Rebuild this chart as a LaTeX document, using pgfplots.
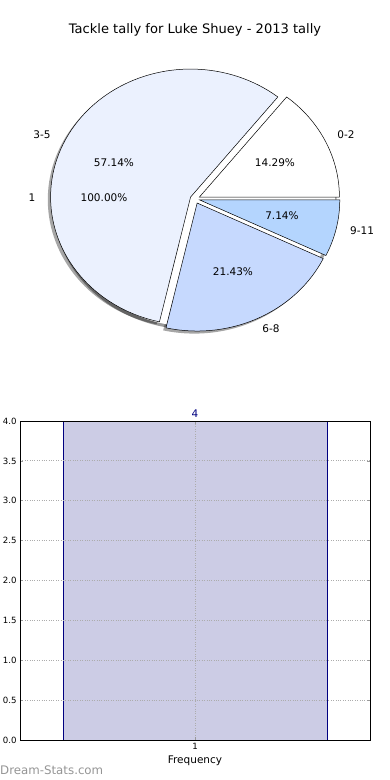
\documentclass[border=0pt]{standalone}
\usepackage{fontspec}
\setmainfont{DejaVu Sans}
\usepackage{pgfplots}
\pgfplotsset{compat=1.18}
\definecolor{cA}{HTML}{FFFFFF}
\definecolor{cB}{HTML}{EBF1FE}
\definecolor{cC}{HTML}{C6D9FE}
\definecolor{cD}{HTML}{B4D5FE}
\definecolor{barfill}{HTML}{CCCCE5}
\definecolor{baredge}{HTML}{000080}
\definecolor{wm}{HTML}{959595}
\newcommand\lbl{\fontsize{10.5bp}{12bp}\selectfont}
\newcommand\tlf{\fontsize{8.6bp}{9bp}\selectfont}
\newcommand\piewedge[5]{%
  \addplot[#5, domain=#1:#2, samples=90] ({#3+cos(x)},{#4+sin(x)}) -- (axis cs:#3,#4) -- cycle;%
}
\begin{document}
\begin{tikzpicture}
\path[use as bounding box] (0,0) rectangle (390bp,780bp);
% pie percentages
\def\pA{14.29}\def\pB{57.14}\def\pC{21.43}\def\pD{7.14}
\pgfmathsetmacro\aA{0}
\pgfmathsetmacro\aB{3.6*\pA}
\pgfmathsetmacro\aC{\aB+3.6*\pB}
\pgfmathsetmacro\aD{\aC+3.6*\pC}
\pgfmathsetmacro\aE{\aD+3.6*\pD}
\def\ex{0.035}\def\sh{0.02}
\pgfmathsetmacro\oxA{\ex*cos((\aA+\aB)/2)}\pgfmathsetmacro\oyA{\ex*sin((\aA+\aB)/2)}
\pgfmathsetmacro\oxB{\ex*cos((\aB+\aC)/2)}\pgfmathsetmacro\oyB{\ex*sin((\aB+\aC)/2)}
\pgfmathsetmacro\oxC{\ex*cos((\aC+\aD)/2)}\pgfmathsetmacro\oyC{\ex*sin((\aC+\aD)/2)}
\pgfmathsetmacro\oxD{\ex*cos((\aD+\aE)/2)}\pgfmathsetmacro\oyD{\ex*sin((\aD+\aE)/2)}
\pgfmathsetmacro\sxA{\oxA-\sh}\pgfmathsetmacro\syA{\oyA-\sh}
\pgfmathsetmacro\sxB{\oxB-\sh}\pgfmathsetmacro\syB{\oyB-\sh}
\pgfmathsetmacro\sxC{\oxC-\sh}\pgfmathsetmacro\syC{\oyC-\sh}
\pgfmathsetmacro\sxD{\oxD-\sh}\pgfmathsetmacro\syD{\oyD-\sh}
\begin{axis}[
  at={(195bp,581bp)}, anchor=center, scale only axis,
  width=390bp, height=300bp,
  xmin=-1.392857, xmax=1.392857, ymin=-1.171875, ymax=1.171875,
  hide axis, clip=false]
  % shadows
  \addplot[fill=black, fill opacity=0.4, draw=none, domain=0:360, samples=180] ({-\sh+cos(x)},{-\sh+sin(x)}) -- cycle;
  \piewedge{\aA}{\aB}{\sxA}{\syA}{fill=black, fill opacity=0.35, draw=none}
  \piewedge{\aB}{\aC}{\sxB}{\syB}{fill=black, fill opacity=0.35, draw=none}
  \piewedge{\aC}{\aD}{\sxC}{\syC}{fill=black, fill opacity=0.35, draw=none}
  \piewedge{\aD}{\aE}{\sxD}{\syD}{fill=black, fill opacity=0.35, draw=none}
  % full white disc (second pie)
  \addplot[fill=white, draw=none, domain=0:360, samples=180] ({cos(x)},{sin(x)}) -- cycle;
  % wedges
  \piewedge{\aA}{\aB}{\oxA}{\oyA}{fill=cA, draw=black, line width=0.5pt}
  \piewedge{\aB}{\aC}{\oxB}{\oyB}{fill=cB, draw=black, line width=0.5pt}
  \piewedge{\aC}{\aD}{\oxC}{\oyC}{fill=cC, draw=black, line width=0.5pt}
  \piewedge{\aD}{\aE}{\oxD}{\oyD}{fill=cD, draw=black, line width=0.5pt}
  % labels
  \node[font=\lbl] at (axis cs:1.079,0.5) {0-2};
  \node[font=\lbl] at (axis cs:-1.093,0.5) {3-5};
  \node[font=\lbl] at (axis cs:0.543,-1.016) {6-8};
  \node[font=\lbl] at (axis cs:1.193,-0.25) {9-11};
  \node[font=\lbl] at (axis cs:-1.164,0.008) {1};
  \node[font=\lbl] at (axis cs:0.571,0.281) {14.29\%};
  \node[font=\lbl] at (axis cs:-0.579,0.281) {57.14\%};
  \node[font=\lbl] at (axis cs:0.271,-0.570) {21.43\%};
  \node[font=\lbl] at (axis cs:0.621,-0.133) {7.14\%};
  \node[font=\lbl] at (axis cs:-0.65,0.008) {100.00\%};
\end{axis}
\node[font=\fontsize{13.05bp}{15bp}\selectfont] at (195bp,750bp) {Tackle tally for Luke Shuey - 2013 tally};
\begin{axis}[
  at={(20bp,40bp)}, anchor=south west, scale only axis,
  width=350bp, height=319bp,
  xmin=0.4697, xmax=1.5303, ymin=0, ymax=4,
  xtick={1}, ytick={0,0.5,...,4},
  grid=major, grid style={dotted, gray!65, line width=0.8pt},
  axis on top,
  tick align=inside, major tick length=3bp,
  tick style={gray!80, line width=0.6pt},
  axis line style={black, line width=0.7pt},
  tick label style={font=\tlf},
  yticklabel style={font=\tlf, /pgf/number format/.cd, fixed, fixed zerofill, precision=1, assume math mode=true},
  xticklabel style={font=\tlf, /pgf/number format/assume math mode=true},
  xlabel={Frequency},
  xlabel style={font=\fontsize{10.5bp}{12bp}\selectfont, yshift=1bp},
  nodes near coords,
  nodes near coords style={font=\fontsize{10.5bp}{12bp}\selectfont, color=baredge, /pgf/number format/assume math mode=true},
]
\addplot[ybar, bar width=0.8, fill=barfill, draw=baredge, line width=0.8pt] coordinates {(1,4)};
\end{axis}
\node[anchor=west, inner sep=0pt, text=wm, font=\fontsize{11.8bp}{12bp}\selectfont] at (0bp,10bp) {Dream-Stats.com};
\end{tikzpicture}
\end{document}
